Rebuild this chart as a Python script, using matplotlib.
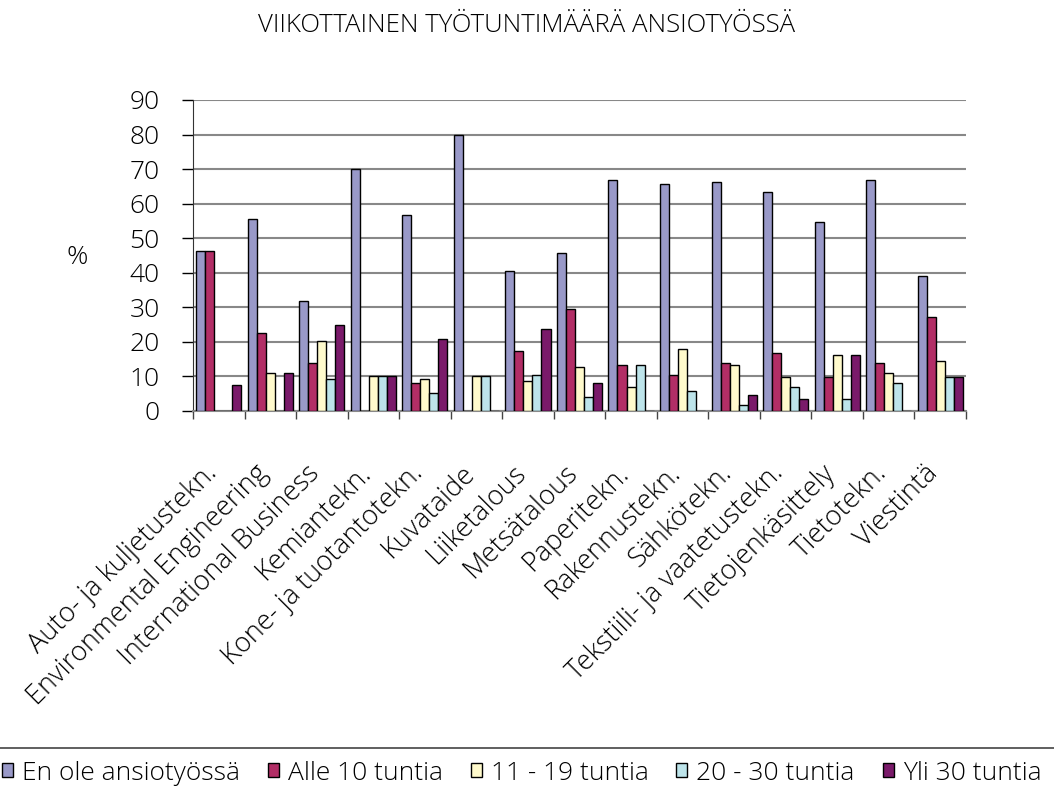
import numpy as np
import matplotlib.pyplot as plt
from matplotlib.lines import Line2D
from matplotlib.transforms import ScaledTranslation

plt.rcParams['font.family'] = ['Open Sans', 'DejaVu Sans']
plt.rcParams['font.weight'] = 'light'

title = "VIIKOTTAINEN TYÖTUNTIMÄÄRÄ ANSIOTYÖSSÄ"

categories = [
    "Auto- ja kuljetustekn.", "Environmental Engineering", "International Business",
    "Kemiantekn.", "Kone- ja tuotantotekn.", "Kuvataide", "Liiketalous",
    "Metsätalous", "Paperitekn.", "Rakennustekn.", "Sähkötekn.",
    "Tekstiili- ja vaatetustekn.", "Tietojenkäsittely", "Tietotekn.", "Viestintä",
]

series_names = ["En ole ansiotyössä", "Alle 10 tuntia", "11 - 19 tuntia",
                "20 - 30 tuntia", "Yli 30 tuntia"]

en_ole = [46.2, 55.5, 31.8, 70.0, 56.6, 80.0, 40.4, 45.6, 66.9, 65.8, 66.4, 63.5, 54.8, 66.9, 39.2]
alle_10 = [46.2, 22.5, 13.8, 0, 8.1, 0, 17.3, 29.5, 13.3, 10.5, 13.8, 16.7, 9.8, 13.8, 27.1]
t11_19 = [0, 11.0, 20.3, 10.0, 9.2, 10.0, 8.7, 12.8, 6.9, 18.0, 13.3, 9.8, 16.2, 11.0, 14.4]
t20_30 = [0, 0, 9.2, 10.0, 5.2, 10.0, 10.5, 4.0, 13.3, 5.8, 1.7, 6.9, 3.5, 8.1, 9.8]
yli_30 = [7.5, 11.0, 24.8, 10.0, 20.9, 0, 23.8, 8.1, 0, 0, 4.7, 3.5, 16.2, 0, 9.8]

colors = ["#9999C8", "#B22E66", "#FFFACC", "#BDE4EA", "#7A1A6A"]

fig = plt.figure(figsize=(10.54, 7.89), dpi=100)
ax = fig.add_axes([0.1831, 0.4791, 0.7334, 0.3942])

x = np.arange(len(categories))
w = 0.175
for i, (vals, col, name) in enumerate(zip([en_ole, alle_10, t11_19, t20_30, yli_30],
                                          colors, series_names)):
    ax.bar(x + (i - 2) * w, vals, width=w, color=col, edgecolor='black',
           linewidth=1.0, label=name, zorder=3)

ax.set_xlim(-0.5, len(categories) - 0.5)
ax.set_ylim(0, 90)
ax.set_yticks(range(0, 91, 10))
ax.yaxis.grid(True, color='#888888', linewidth=1.5, zorder=0)

# category boundaries carry the tick marks, names go in the middle
ax.set_xticks(np.arange(-0.5, len(categories)), minor=False)
ax.set_xticklabels([])
ax.set_xticks(x, minor=True)
ax.set_xticklabels(categories, minor=True, rotation=45, ha='right', va='center',
                   rotation_mode='anchor', fontsize=19.5)
ax.tick_params(axis='x', which='minor', length=0, pad=42)
ax.tick_params(axis='x', which='major', length=6, width=1, color='#444444')
ax.tick_params(axis='y', length=8, width=1, labelsize=19, pad=16)

# nudge the slanted names a little to the left
shift = ScaledTranslation(-6 / 100, 0, fig.dpi_scale_trans)
for lbl in ax.get_xticklabels(minor=True):
    lbl.set_transform(lbl.get_transform() + shift)

for s in ['top', 'right']:
    ax.spines[s].set_visible(False)
ax.spines['left'].set_color('#333333')
ax.spines['bottom'].set_color('#888888')
ax.spines['bottom'].set_linewidth(1.5)

fig.text(0.5, 0.968, title, ha='center', va='center', fontsize=18.5)
fig.text(0.073, 0.674, "%", ha='center', va='center', fontsize=19)

fig.add_artist(Line2D([0, 1], [1 - 748 / 789, 1 - 748 / 789], color='#444444', linewidth=1.2))
fig.legend(loc='center', bbox_to_anchor=(0.495, 1 - 773 / 789), ncol=5, frameon=False,
           fontsize=19, handlelength=0.42, handleheight=0.42, handletextpad=0.34,
           columnspacing=1.05, borderaxespad=0, borderpad=0)

fig.savefig("out.png", dpi=100)
